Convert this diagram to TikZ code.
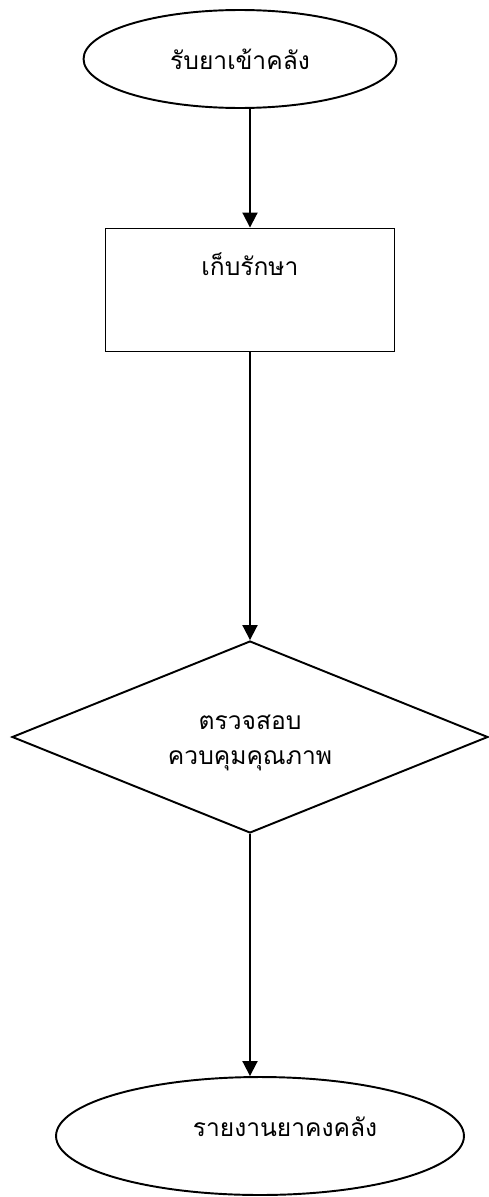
\documentclass[tikz,border=0pt]{standalone}
\usepackage{fontspec}
\newfontfamily\thaifont[Script=Thai]{Loma}
\usetikzlibrary{shapes.geometric,arrows.meta}
\tikzset{
  startstop/.style={draw, ellipse, inner sep=0pt},
  process/.style={draw, rectangle, inner sep=0pt},
  decision/.style={draw, diamond, inner sep=0pt, aspect=2.48},
  flow/.style={-{Triangle[length=0.3cm,width=0.3cm]}}
}
\begin{document}
\begin{tikzpicture}[line width=1.1pt, x=0.02cm, y=-0.02cm, font=\thaifont\fontsize{14}{20}\selectfont]
\useasboundingbox (0,0) rectangle (489,1197);
\node[startstop, minimum width=6.26cm, minimum height=1.96cm] (rcv) at (240,59) {รับยาเข้าคลัง};
\node[process, minimum width=5.78cm, minimum height=2.46cm] (keep) at (250,290) {};
\node (keeptxt) at (250,264) {เก็บรักษา};
\node[decision, minimum width=9.52cm, minimum height=3.84cm] (chk) at (250,737) {};
\node[align=center] (chktxt) at (250,743) {ตรวจสอบ\\ควบคุมคุณภาพ};
\node[startstop, minimum width=8.16cm, minimum height=2.36cm] (rpt) at (260,1136) {};
\node (rpttxt) at (285,1127) {รายงานยาคงคลัง};

\draw[flow] (keep.north |- rcv.south) -- (keep.north);
\draw[flow] (keep.south) -- (chk.north);
\draw[flow] (chk.south) -- (chk.south |- rpt.north);
\end{tikzpicture}
\end{document}
